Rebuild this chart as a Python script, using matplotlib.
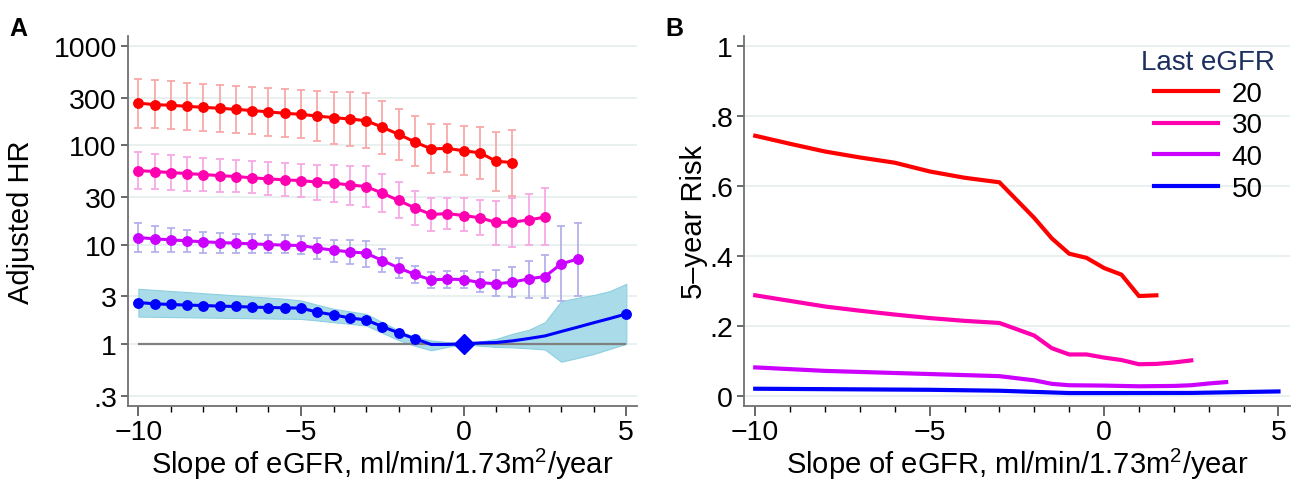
import numpy as np
import matplotlib
matplotlib.use("Agg")
import matplotlib.pyplot as plt

plt.rcParams['font.family'] = ['Liberation Sans', 'DejaVu Sans']
plt.rcParams['mathtext.fontset'] = 'custom'
plt.rcParams['mathtext.rm'] = 'Liberation Sans'

# ---- panel A: adjusted HR by slope, for each last eGFR level
x_red = np.arange(-10, 1.51, 0.5)
red_hr = [266, 257, 253, 247, 241, 236, 230, 224, 217, 210, 205, 197, 190, 184, 177,
          152, 129, 108, 92, 93, 88, 84, 69, 67]
red_lo = [151, 149, 146, 144, 140, 135, 132, 129, 125, 122, 118, 110, 104, 99, 93,
          82, 71, 62, 53, 54, 50, 46, 34.5, 31]
red_hi = [470, 459, 445, 428, 415, 406, 393, 385, 376, 370, 361, 353, 347, 343, 339,
          282, 234, 195, 163, 162, 157, 154, 137, 144]

x_pink = np.arange(-10, 2.51, 0.5)
pink_hr = [55.6, 54.4, 53.1, 51.9, 50.7, 49.5, 48.4, 47.0, 45.9, 44.8, 44.1, 42.5, 41.5,
           39.9, 38.4, 32.9, 27.8, 23.4, 20.1, 20.5, 19.6, 18.6, 16.7, 16.8, 17.7, 18.9]
pink_lo = [36.1, 36.1, 35.6, 34.7, 34.5, 34.2, 33.7, 32.9, 31.9, 31.1, 30.2, 28.4, 27.1,
           25.3, 23.8, 21.2, 18.5, 15.9, 13.6, 14.3, 13.6, 12.6, 10.0, 9.5, 9.9, 9.8]
pink_hi = [85.8, 82.4, 79.4, 76.4, 74.1, 72.4, 70.8, 69.2, 67.6, 66.5, 65.4, 63.9, 63.5,
           62.5, 61.6, 51.2, 42.5, 34.7, 29.3, 29.7, 29.1, 28.4, 27.5, 29.3, 32.4, 37.0]

x_purple = np.arange(-10, 3.51, 0.5)
purple_hr = [11.77, 11.41, 11.15, 10.90, 10.65, 10.47, 10.33, 10.16, 10.0, 9.86, 9.77,
             9.20, 8.78, 8.44, 8.19, 6.90, 5.83, 4.99, 4.41, 4.48, 4.44, 4.14, 4.02,
             4.18, 4.51, 4.76, 6.39, 7.13]
purple_lo = [8.50, 8.50, 8.50, 8.38, 8.31, 8.31, 8.31, 8.25, 8.25, 8.19, 8.06, 7.18, 6.70,
             6.39, 5.92, 5.31, 4.65, 4.09, 3.64, 3.69, 3.66, 3.32, 3.02, 2.93, 2.91,
             2.91, 2.71, 3.04]
purple_hi = [16.4, 15.5, 14.7, 14.1, 13.5, 13.2, 12.9, 12.7, 12.5, 12.4, 12.3, 11.7, 11.2,
             11.0, 10.9, 9.1, 7.35, 6.14, 5.31, 5.40, 5.35, 5.31, 5.52, 5.96, 6.80,
             7.82, 15.3, 16.5]

x_blue = np.arange(-10, 5.01, 0.5)
blue_hr = [2.605, 2.528, 2.488, 2.453, 2.430, 2.397, 2.375, 2.342, 2.320, 2.305, 2.289,
           2.085, 1.959, 1.82, 1.74, 1.49, 1.29, 1.125, 0.985, 0.985, 1.0,
           1.02, 1.03, 1.07, 1.13, 1.2, 1.33, 1.47, 1.63, 1.8, 2.0]
blue_lo = [1.88, 1.87, 1.86, 1.85, 1.84, 1.83, 1.82, 1.81, 1.80, 1.79, 1.78, 1.72, 1.65,
           1.59, 1.53, 1.29, 1.09, 0.955, 0.86, 0.93, 1.0,
           0.955, 0.93, 0.92, 0.90, 0.876, 0.66, 0.72, 0.79, 0.89, 1.0]
blue_hi = [3.58, 3.49, 3.40, 3.32, 3.23, 3.15, 3.07, 2.99, 2.92, 2.84, 2.73, 2.47, 2.25,
           2.12, 2.0, 1.65, 1.36, 1.17, 1.08, 1.04, 1.0,
           1.05, 1.12, 1.26, 1.38, 1.65, 2.69, 2.9, 3.1, 3.4, 4.02]
blue_dots = list(range(18)) + [30]   # points drawn with a marker
ref_idx = 20                         # reference slope 0

# ---- panel B: 5-year risk
b_red_x = [-10, -9, -8, -7, -6, -5, -4, -3, -2, -1.5, -1, -0.5, 0, 0.5, 1, 1.5]
b_red = [.743, .720, .698, .681, .666, .641, .623, .610, .508, .450, .406, .394, .365,
         .346, .285, .287]
b_pink_x = [-10, -9, -8, -7, -6, -5, -4, -3, -2, -1.5, -1, -0.5, 0, 0.5, 1, 1.5, 2, 2.5]
b_pink = [.287, .271, .255, .243, .232, .222, .214, .208, .172, .136, .118, .118, .109,
          .102, .090, .091, .095, .101]
b_purple_x = [-10, -8, -6, -5, -4, -3, -2, -1.5, -1, 0, 1, 2, 2.5, 3, 3.5]
b_purple = [.081, .071, .065, .062, .059, .056, .044, .034, .030, .029, .027, .028, .030,
            .035, .039]
b_blue_x = [-10, -5, -3, -2, -1, 0, 2.5, 5]
b_blue = [.020, .017, .0143, .011, .0077, .0077, .008, .0123]

egfr_labels = ['20', '30', '40', '50']
c_red, c_pink, c_purple, c_blue = '#ff0000', '#ff00b0', '#cc00ff', '#0000ff'

fig = plt.figure(figsize=(12.94, 4.81), dpi=100)
axA = fig.add_axes([0.0989, 0.1538, 0.3934, 0.7692])
axB = fig.add_axes([0.5750, 0.1538, 0.4219, 0.7692])

spine_c = '#707070'
grid_c = '#e4eeee'
xlab = 'Slope of eGFR, ml/min/1.73m$^{\\mathregular{2}}$/year'
for ax in (axA, axB):
    for s in ('top', 'right'):
        ax.spines[s].set_visible(False)
    for s in ('left', 'bottom'):
        ax.spines[s].set_color(spine_c)
        ax.spines[s].set_linewidth(1.3)
    ax.tick_params(colors='#404040', labelcolor='black', labelsize=20.5, width=1.1)
    ax.tick_params(axis='x', which='major', length=7, pad=2)
    ax.tick_params(axis='x', which='minor', length=4, width=1.0)
    ax.tick_params(axis='y', length=5, pad=3)
    ax.set_xticks([-10, -5, 0, 5])
    ax.set_xticks(np.arange(-10, 5.1, 1), minor=True)
    ax.set_xlim(-10.32, 5.33)
    ax.set_xlabel(xlab, fontsize=21, labelpad=1)
    ax.grid(axis='y', color=grid_c, lw=1.2)
    ax.set_axisbelow(True)

# panel A
axA.set_yscale('log')
axA.set_ylim(0.236, 1261)
yt = [0.3, 1, 3, 10, 30, 100, 300, 1000]
axA.set_yticks(yt)
axA.set_yticklabels(['.3', '1', '3', '10', '30', '100', '300', '1000'])
axA.minorticks_off()
axA.set_xticks(np.arange(-10, 5.1, 1), minor=True)
axA.set_ylabel('Adjusted HR', fontsize=21, labelpad=13)

axA.fill_between(x_blue, blue_lo, blue_hi, color='#a9dce8', edgecolor='#8ccfe0',
                 lw=0.8, zorder=2)
axA.hlines(1, -10, 5, color='#808080', lw=1.6, zorder=3)

for x, hr, lo, hi, c, ec in [(x_red, red_hr, red_lo, red_hi, c_red, '#f8a8a8'),
                             (x_pink, pink_hr, pink_lo, pink_hi, c_pink, '#f7a9e4'),
                             (x_purple, purple_hr, purple_lo, purple_hi, c_purple, '#b3b1ec')]:
    hr = np.array(hr)
    err = [hr - np.array(lo), np.array(hi) - hr]
    axA.errorbar(x, hr, yerr=err, fmt='none', ecolor=ec, elinewidth=1.3, capsize=3,
                 capthick=1.3, zorder=3)
    axA.plot(x, hr, '-o', color=c, lw=2.2, ms=6.8, zorder=4)

axA.plot(x_blue, blue_hr, '-o', color=c_blue, lw=2.2, ms=6.8, markevery=blue_dots, zorder=4)
axA.plot(x_blue[ref_idx], blue_hr[ref_idx], 'D', color=c_blue, ms=10, zorder=5)

# panel B
axB.set_ylim(-0.0294, 1.028)
axB.set_yticks([0, .2, .4, .6, .8, 1])
axB.set_yticklabels(['0', '.2', '.4', '.6', '.8', '1'])
axB.set_ylabel('5\u2013year Risk', fontsize=21, labelpad=1)
lines = []
for x, y, c in [(b_red_x, b_red, c_red), (b_pink_x, b_pink, c_pink),
                (b_purple_x, b_purple, c_purple), (b_blue_x, b_blue, c_blue)]:
    ln, = axB.plot(x, y, color=c, lw=3, solid_joinstyle='miter')
    lines.append(ln)
leg = axB.legend(lines, egfr_labels, title='Last eGFR', frameon=False, fontsize=20,
                 title_fontsize=20, loc='upper right', bbox_to_anchor=(0.993, 0.994),
                 borderaxespad=0.0, handlelength=2.3, handletextpad=0.5,
                 labelspacing=0.2)
leg.get_title().set_color('#1c2f5e')

fig.text(0.007, 0.925, 'A', fontsize=18, fontweight='bold')
fig.text(0.514, 0.925, 'B', fontsize=18, fontweight='bold')

fig.savefig('out.png', dpi=100)
